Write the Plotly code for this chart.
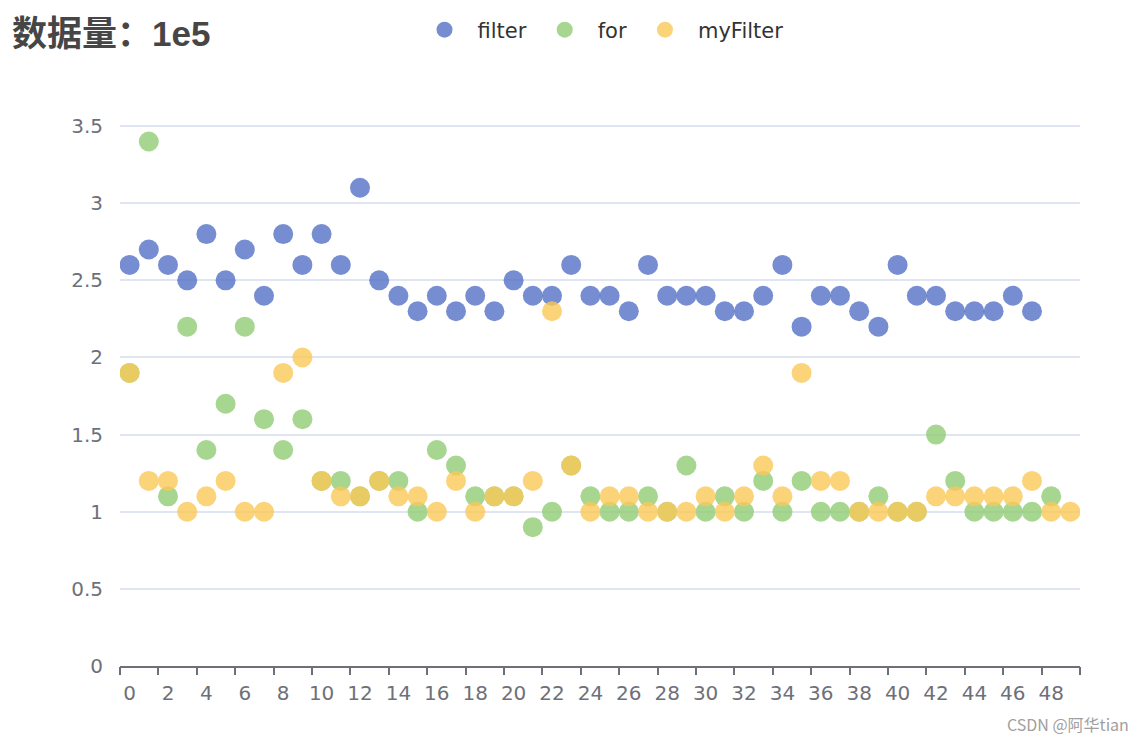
import plotly.graph_objects as go

# data
categories = [str(i) for i in range(50)]

filter_vals = [2.6, 2.7, 2.6, 2.5, 2.8, 2.5, 2.7, 2.4, 2.8, 2.6, 2.8, 2.6, 3.1, 2.5, 2.4, 2.3,
               2.4, 2.3, 2.4, 2.3, 2.5, 2.4, 2.4, 2.6, 2.4, 2.4, 2.3, 2.6, 2.4, 2.4, 2.4, 2.3,
               2.3, 2.4, 2.6, 2.2, 2.4, 2.4, 2.3, 2.2, 2.6, 2.4, 2.4, 2.3, 2.3, 2.3, 2.4, 2.3]
for_vals = [1.9, 3.4, 1.1, 2.2, 1.4, 1.7, 2.2, 1.6, 1.4, 1.6, 1.2, 1.2, 1.1, 1.2, 1.2, 1.0,
            1.4, 1.3, 1.1, 1.1, 1.1, 0.9, 1.0, 1.3, 1.1, 1.0, 1.0, 1.1, 1.0, 1.3, 1.0, 1.1,
            1.0, 1.2, 1.0, 1.2, 1.0, 1.0, 1.0, 1.1, 1.0, 1.0, 1.5, 1.2, 1.0, 1.0, 1.0, 1.0, 1.1]
myfilter_vals = [1.9, 1.2, 1.2, 1.0, 1.1, 1.2, 1.0, 1.0, 1.9, 2.0, 1.2, 1.1, 1.1, 1.2, 1.1, 1.1,
                 1.0, 1.2, 1.0, 1.1, 1.1, 1.2, 2.3, 1.3, 1.0, 1.1, 1.1, 1.0, 1.0, 1.0, 1.1, 1.0,
                 1.1, 1.3, 1.1, 1.9, 1.2, 1.2, 1.0, 1.0, 1.0, 1.0, 1.1, 1.1, 1.1, 1.1, 1.1, 1.2,
                 1.0, 1.0]

series = [
    ("filter", filter_vals, "#5470c6"),
    ("for", for_vals, "#91cc75"),
    ("myFilter", myfilter_vals, "#fac858"),
]

FONT = "DejaVu Sans, Noto Sans CJK SC, sans-serif"
AXIS_GREY = "#6e7079"
PLOT_H = 742 - 115 - 84

fig = go.Figure()
for name, vals, color in series:
    fig.add_trace(
        go.Scatter(
            x=list(range(len(vals))),
            y=vals,
            name=name,
            mode="markers",
            marker=dict(size=20, color=color, opacity=0.8, line=dict(width=0)),
        )
    )

# invisible trace to carry the boundary ticks on a second x axis
fig.add_trace(
    go.Scatter(x=[0], y=[0], xaxis="x2", showlegend=False,
               mode="markers", marker=dict(opacity=0), hoverinfo="skip")
)

fig.update_layout(
    width=1146,
    height=742,
    margin=dict(l=112, r=74, t=115, b=84, autoexpand=False),
    paper_bgcolor="white",
    plot_bgcolor="white",
    font=dict(family=FONT, size=20, color=AXIS_GREY),
    title=dict(
        text="<b>数据量：1e5</b>",
        x=4 / 1146, xanchor="left", xref="container",
        y=1 - 26 / 742, yanchor="middle", yref="container",
        font=dict(family="Liberation Sans, Noto Sans CJK SC, sans-serif", size=35, color="#464646"),
    ),
    legend=dict(
        orientation="h",
        x=0.5, xanchor="center",
        y=1 + 93 / PLOT_H, yanchor="middle",
        font=dict(size=21, color="#333333"),
        itemsizing="trace",
        itemwidth=56,
        bgcolor="rgba(0,0,0,0)",
    ),
    xaxis=dict(
        range=[-0.5, 49.5],
        tickvals=list(range(0, 50, 2)),
        ticktext=categories[::2],
        ticks="",
        showgrid=False,
        zeroline=False,
        showline=True,
        linecolor=AXIS_GREY,
        linewidth=2,
        tickfont=dict(size=20, color=AXIS_GREY),
        ticklabelstandoff=8,
    ),
    xaxis2=dict(
        overlaying="x",
        side="bottom",
        anchor="y",
        range=[-0.5, 49.5],
        tickvals=[i - 0.5 for i in range(0, 51, 2)],
        ticks="outside",
        ticklen=8,
        tickwidth=2,
        tickcolor=AXIS_GREY,
        showticklabels=False,
        showgrid=False,
        zeroline=False,
        showline=False,
    ),
    yaxis=dict(
        range=[0, 3.52],
        tickvals=[0, 0.5, 1, 1.5, 2, 2.5, 3, 3.5],
        showgrid=True,
        gridcolor="#e0e6f1",
        gridwidth=2,
        zeroline=False,
        showline=False,
        ticks="",
        tickfont=dict(size=20, color=AXIS_GREY),
        ticklabelstandoff=16,
    ),
    showlegend=True,
)

fig.add_annotation(
    text="CSDN @阿华tian",
    xref="paper", yref="paper",
    x=1 + 51 / 960, xanchor="right",
    y=-58 / PLOT_H, yanchor="middle",
    showarrow=False,
    font=dict(family="Noto Sans CJK SC, sans-serif", size=16, color="#a0a0a0"),
)

fig.write_html("out.html")
